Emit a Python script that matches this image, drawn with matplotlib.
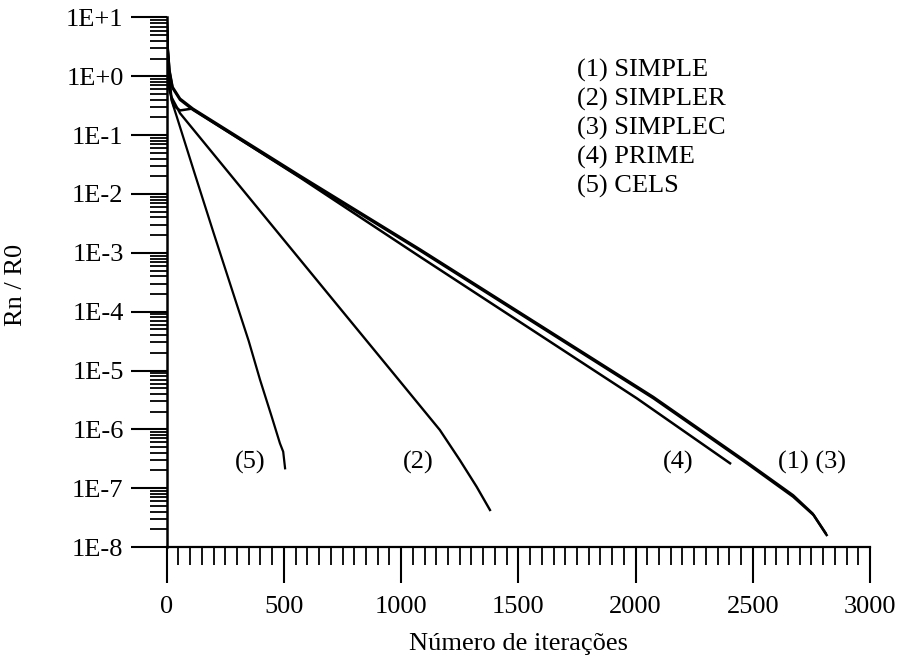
import matplotlib
matplotlib.use("Agg")
import matplotlib.pyplot as plt
import numpy as np
from matplotlib.ticker import LogLocator, MultipleLocator, FixedLocator, NullFormatter

plt.rcParams['font.family'] = ['Liberation Serif', 'DejaVu Serif']
plt.rcParams['font.size'] = 19

# residual history, log10(Rn/R0) against iteration count
it_simple = [0, 4, 12, 25, 57, 112, 569, 1080, 2076, 2474, 2672, 2760, 2815]
lg_simple = [1.0, 0.5, 0.08, -0.2, -0.40, -0.57, -1.711, -2.96, -5.472, -6.577, -7.145, -7.46, -7.796]

it_simpler = [0, 4, 10, 20, 57, 300, 718, 988, 1165, 1250, 1322, 1379]
lg_simpler = [1.0, 0.5, 0.05, -0.35, -0.628, -1.81, -3.84, -5.15, -6.01, -6.52, -6.975, -7.371]

it_simplec = [0, 4, 12, 25, 57, 112, 569, 1080, 2076, 2474, 2672, 2755, 2810]
lg_simplec = [1.0, 0.5, 0.1, -0.18, -0.38, -0.55, -1.69, -2.94, -5.45, -6.555, -7.12, -7.43, -7.76]

it_prime = [0, 4, 10, 30, 57, 107, 569, 1080, 2005, 2403]
lg_prime = [1.0, 0.4, -0.2, -0.5, -0.58, -0.55, -1.72, -3.065, -5.472, -6.577]

it_cels = [0, 4, 10, 20, 43, 120, 200, 296, 350, 398, 448, 483, 497, 505]
lg_cels = [1.0, 0.5, 0.0, -0.4, -0.686, -1.66, -2.66, -3.84, -4.50, -5.155, -5.785, -6.237, -6.38, -6.662]

methods = ["(1) SIMPLE", "(2) SIMPLER", "(3) SIMPLEC", "(4) PRIME", "(5) CELS"]
curve_tags = ["(5)", "(2)", "(4)", "(1) (3)"]
tag_iter = [355, 1072, 2181, 2753]
tag_value = 2.7e-7

x_ticks = [0, 500, 1000, 1500, 2000, 2500, 3000]
y_ticks = [1e-8, 1e-7, 1e-6, 1e-5, 1e-4, 1e-3, 1e-2, 1e-1, 1e0, 1e1]
y_tick_labels = ["1E-8", "1E-7", "1E-6", "1E-5", "1E-4", "1E-3", "1E-2", "1E-1", "1E+0", "1E+1"]

fig = plt.figure(figsize=(9.01, 6.57), dpi=100)
ax = fig.add_axes([0.185, 0.1674, 0.7806, 0.806])

ax.plot(it_simple, 10 ** np.array(lg_simple), color='black', lw=1.8)
ax.plot(it_simplec, 10 ** np.array(lg_simplec), color='black', lw=1.8)
ax.plot(it_prime, 10 ** np.array(lg_prime), color='black', lw=1.8)
ax.plot(it_simpler, 10 ** np.array(lg_simpler), color='black', lw=1.7)
ax.plot(it_cels, 10 ** np.array(lg_cels), color='black', lw=1.6)

ax.set_yscale('log')
ax.set_xlim(0, 3000)
ax.set_ylim(1e-8, 1e1)

ax.spines['top'].set_visible(False)
ax.spines['right'].set_visible(False)
ax.spines['left'].set_linewidth(1.8)
ax.spines['bottom'].set_linewidth(1.6)

ax.xaxis.set_major_locator(FixedLocator(x_ticks))
ax.xaxis.set_minor_locator(MultipleLocator(50))
ax.set_xticklabels([str(v) for v in x_ticks])

ax.yaxis.set_major_locator(FixedLocator(y_ticks))
ax.set_yticklabels(y_tick_labels)
ax.yaxis.set_minor_locator(LogLocator(base=10, subs=np.arange(2, 10), numticks=20))
ax.yaxis.set_minor_formatter(NullFormatter())

ax.tick_params(axis='both', which='major', direction='out', color='black', width=1.5)
ax.tick_params(axis='y', which='major', length=26, pad=5)
ax.tick_params(axis='x', which='major', length=26, pad=9)
ax.tick_params(axis='y', which='minor', direction='out', length=12, width=1.3)
ax.tick_params(axis='x', which='minor', direction='out', length=13, width=1.3)

for i, name in enumerate(methods):
    ax.text(0.5834, 0.9008 - i * 0.055, name, transform=ax.transAxes,
            ha='left', va='center', fontsize=19)

for tag, xi in zip(curve_tags, tag_iter):
    ax.text(xi, tag_value, tag, ha='center', va='center', fontsize=19)

ax.set_xlabel("Número de iterações")
ax.set_ylabel("Rn / R0")
ax.xaxis.set_label_coords(0.5, -0.162)
ax.yaxis.set_label_coords(-0.1986, 0.495)

fig.savefig('out.png', dpi=100)
